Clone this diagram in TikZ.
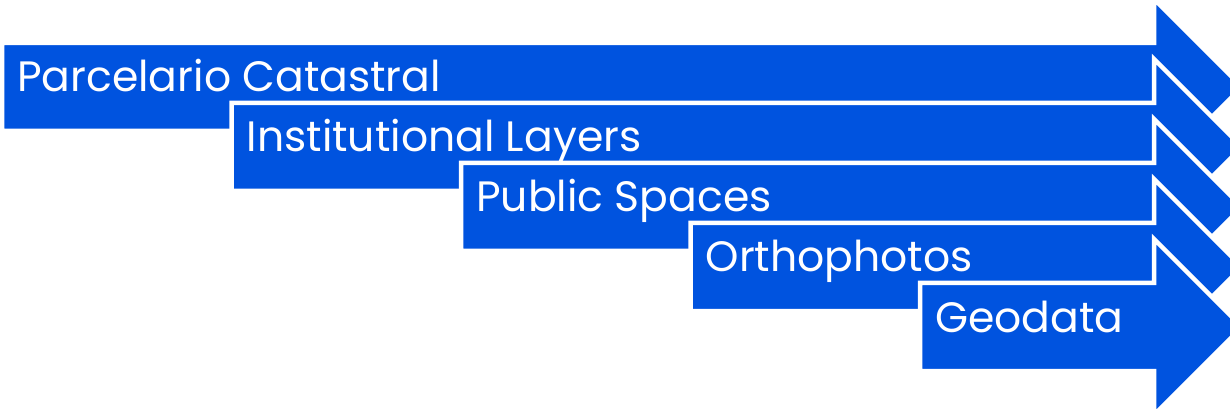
\documentclass[tikz,border=0pt]{standalone}
\usepackage{fontspec}
\newfontfamily\popfont{Poppins}
\definecolor{arrowblue}{HTML}{0053DF}
\begin{document}
\begin{tikzpicture}[x=1pt,y=-1pt,
  arrowshape/.style={fill=arrowblue,draw=white,line width=4.5pt,line join=miter},
  label/.style={anchor=base west,inner sep=0pt,text=white,font=\popfont\fontsize{42.5}{50}\selectfont}]
\useasboundingbox (0,0) rectangle (1230,411);
\clip (0,0) rectangle (1230,411);
\foreach \i/\txt in {0/Parcelario Catastral,1/Institutional Layers,2/Public Spaces,3/Orthophotos,4/Geodata}{
  \pgfmathsetmacro{\cy}{87+60*\i}
  \pgfmathsetmacro{\xl}{2+229.5*\i}
  \draw[arrowshape] (\xl,\cy-44) -- (1154,\cy-44) -- (1154,\cy-88) -- (1242,\cy) -- (1154,\cy+88) -- (1154,\cy+44) -- (\xl,\cy+44) -- cycle;
  \node[label] (t\i) at (\xl+15,\cy+5) {\txt};
}
\end{tikzpicture}
\end{document}
